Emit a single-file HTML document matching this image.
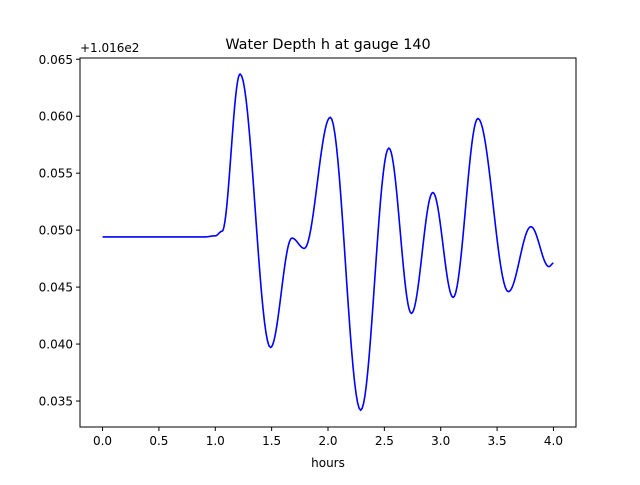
<!DOCTYPE html>
<html><head><meta charset="utf-8"><style>
body{margin:0;background:#fff;}
svg text{font-family:"DejaVu Sans","Liberation Sans",sans-serif;fill:#000;}
</style></head><body>
<svg id="chart" width="640" height="480" xmlns="http://www.w3.org/2000/svg">
<rect width="640" height="480" fill="#fff"/>
<text x="328" y="49" font-size="14.4" text-anchor="middle">Water Depth h at gauge 140</text>
<text x="80" y="52" font-size="12">+1.016e2</text>
<text x="328" y="467" font-size="12" text-anchor="middle">hours</text>
<g id="ticks"></g>
<path id="line" fill="none" stroke="#0000ff" stroke-width="1.6"/>
<rect x="80" y="58" width="496" height="369" fill="none" stroke="#000" stroke-width="1"/>
</svg>
<script>
const times = [0, 0.5, 0.9, 1.0, 1.06, 1.22, 1.49, 1.68, 1.79, 2.02, 2.29, 2.54, 2.74, 2.93, 3.11, 3.33, 3.6, 3.8, 3.96, 4.0];
const depths = [0.0494, 0.0494, 0.0494, 0.0495, 0.0499, 0.0637, 0.0397, 0.0493, 0.0484, 0.0599, 0.0342, 0.0572, 0.0427, 0.0533, 0.0441, 0.0598, 0.0446, 0.0503, 0.0468, 0.0471];
const xTicks = [0, 0.5, 1.0, 1.5, 2.0, 2.5, 3.0, 3.5, 4.0];
const yTicks = [0.035, 0.040, 0.045, 0.050, 0.055, 0.060, 0.065];
const X0=80,X1=576,Y0=58,Y1=427, xmin=-0.2,xmax=4.2, ymin=0.03272, ymax=0.06511;
const sx=t=>X0+(t-xmin)/(xmax-xmin)*(X1-X0);
const sy=v=>Y1-(v-ymin)/(ymax-ymin)*(Y1-Y0);
const NS="http://www.w3.org/2000/svg";
const g=document.getElementById('ticks');
function el(tag,attrs,txt){const e=document.createElementNS(NS,tag);for(const k in attrs)e.setAttribute(k,attrs[k]);if(txt!==undefined)e.textContent=txt;g.appendChild(e);return e;}
xTicks.forEach(t=>{
  const l=el('line',{x1:sx(t),x2:sx(t),y1:Y1,y2:Y1+4,stroke:'#000'});
  
  
  const s=el('text',{x:sx(t),y:Y1+18,'font-size':12,'text-anchor':'middle'},t.toFixed(1));
  
  
});
yTicks.forEach(v=>{
  const l=el('line',{x1:X0-4,x2:X0,y1:sy(v),y2:sy(v),stroke:'#000'});
  
  
  const s=el('text',{x:X0-7,y:sy(v)+4.5,'font-size':12,'text-anchor':'end'},v.toFixed(3));
  
  
});
let d='M'+sx(times[0])+','+sy(depths[0]);
for(let i=1;i<times.length;i++){
  const t0=times[i-1],t1=times[i],v0=depths[i-1],v1=depths[i];
  for(let k=1;k<=20;k++){const f=k/20;const w=(1-Math.cos(Math.PI*f))/2;
    d+=' L'+sx(t0+(t1-t0)*f).toFixed(2)+','+sy(v0+(v1-v0)*w).toFixed(2);}
}
document.getElementById('line').setAttribute('d',d);
</script>
</body></html>
